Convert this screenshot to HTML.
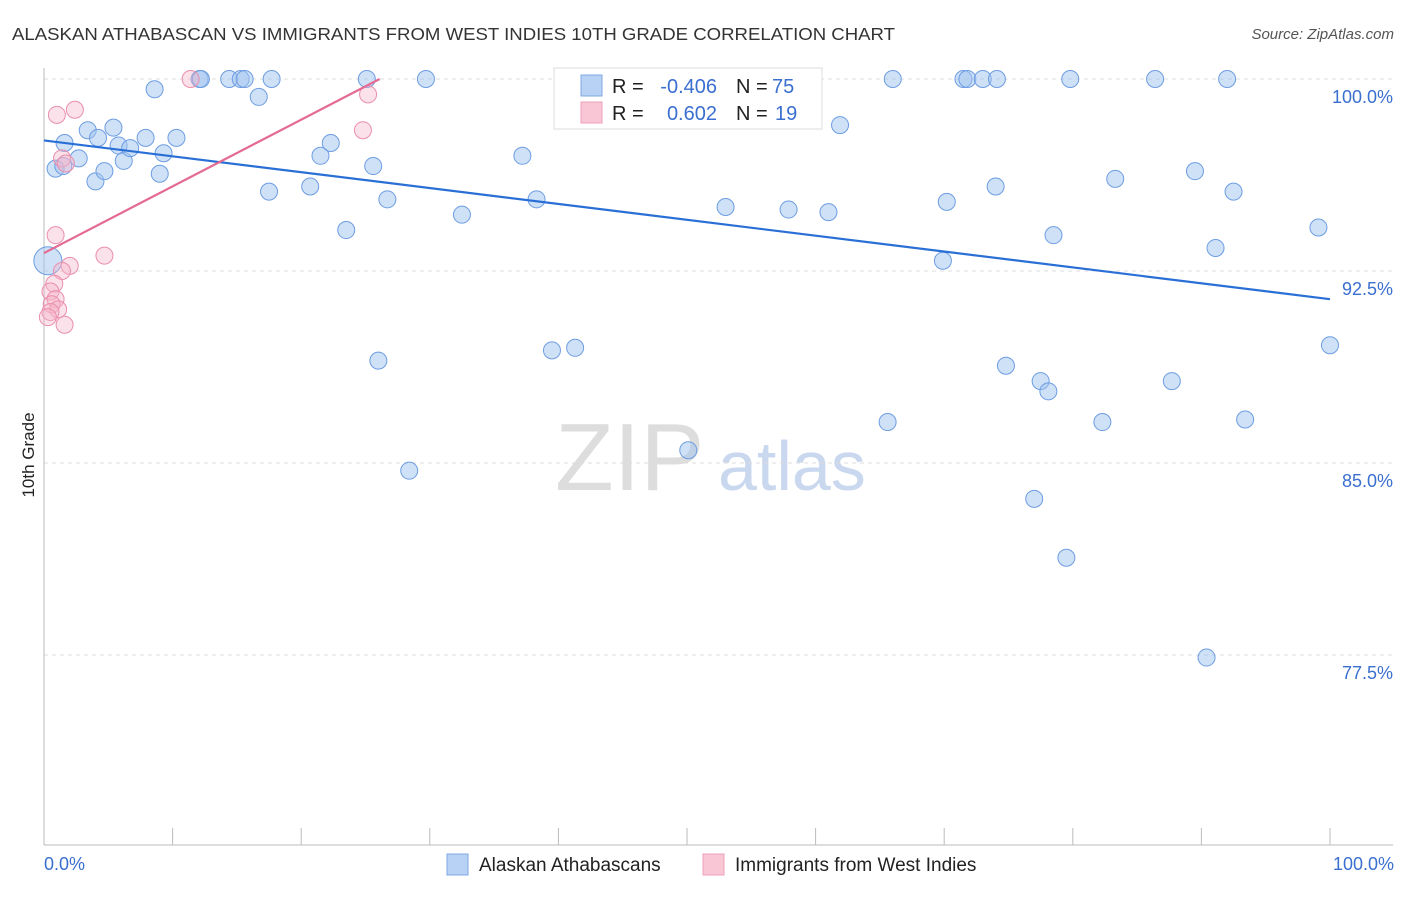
<!DOCTYPE html>
<html><head><meta charset="utf-8"><style>
body{margin:0;background:#fff;font-family:"Liberation Sans",sans-serif}
svg text{font-family:"Liberation Sans",sans-serif}
</style></head><body>
<svg id="chart" width="1406" height="892">
<text x="12" y="40" font-size="17.5" fill="#333" textLength="883" lengthAdjust="spacingAndGlyphs">ALASKAN ATHABASCAN VS IMMIGRANTS FROM WEST INDIES 10TH GRADE CORRELATION CHART</text>
<text x="1394" y="39" font-size="15" fill="#555" font-style="italic" text-anchor="end">Source: ZipAtlas.com</text>
<text x="34" y="455" font-size="17" fill="#222" text-anchor="middle" transform="rotate(-90 34 455)">10th Grade</text>
<text x="555" y="490" font-size="96" fill="#ddd" font-family="Liberation Serif">ZIP</text>
<text x="718" y="490" font-size="70" fill="#c9d8ef">atlas</text>
<g id="grid"></g><g id="axes"></g><g id="marks"></g>
<g>
<rect x="554" y="68" width="268" height="61" fill="#fff" stroke="#ddd"/>
<rect x="581" y="75" width="21" height="21" fill="#b8d2f5" stroke="#7fa8e4"/>
<rect x="581" y="102" width="21" height="21" fill="#f9c6d6" stroke="#eca0b8"/>
<text x="612" y="93" font-size="20" fill="#222">R =</text>
<text x="717" y="93" font-size="20" fill="#3a6fd0" text-anchor="end">-0.406</text>
<text x="736" y="93" font-size="20" fill="#222">N =</text>
<text x="772" y="93" font-size="20" fill="#3a6fd0">75</text>
<text x="612" y="120" font-size="20" fill="#222">R =</text>
<text x="717" y="120" font-size="20" fill="#3a6fd0" text-anchor="end">0.602</text>
<text x="736" y="120" font-size="20" fill="#222">N =</text>
<text x="775" y="120" font-size="20" fill="#3a6fd0">19</text>
</g>
<rect x="447" y="854" width="21" height="21" fill="#b8d2f5" stroke="#7fa8e4"/>
<text x="479" y="871" font-size="19" fill="#222">Alaskan Athabascans</text>
<rect x="703" y="854" width="21" height="21" fill="#f9c6d6" stroke="#eca0b8"/>
<text x="735" y="871" font-size="19" fill="#222">Immigrants from West Indies</text>
<text x="44" y="870" font-size="18" fill="#3a6fd0">0.0%</text>
<text x="1394" y="870" font-size="18" fill="#3a6fd0" text-anchor="end">100.0%</text>
</svg>
<script>
const yTicks=[100,92.5,85,77.5];
const yTickLabels=["100.0%","92.5%","85.0%","77.5%"];
const blueX=[0.9,1.6,1.5,2.7,3.4,4.0,4.2,4.7,5.4,5.8,6.2,6.7,7.9,8.6,9.0,9.3,10.3,12.1,12.2,14.4,15.3,15.6,16.7,17.5,17.7,20.7,21.5,22.3,23.5,25.1,25.6,26.0,26.7,28.4,29.7,32.5,37.2,38.3,39.5,41.3,50.1,53.0,57.9,61.0,61.9,65.6,66.0,69.9,70.2,71.5,71.8,73.0,74.0,74.1,74.8,77.0,77.5,78.1,78.5,79.5,79.8,82.3,83.3,86.4,87.7,89.5,90.4,91.1,92.0,92.5,93.4,99.1,100,0.3];
const blueY=[96.5,97.5,96.6,96.9,98.0,96.0,97.7,96.4,98.1,97.4,96.8,97.3,97.7,99.6,96.3,97.1,97.7,100,100,100,100,100,99.3,95.6,100,95.8,97.0,97.5,94.1,100,96.6,89.0,95.3,84.7,100,94.7,97.0,95.3,89.4,89.5,85.5,95.0,94.9,94.8,98.2,86.6,100,92.9,95.2,100,100,100,95.8,100,88.8,83.6,88.2,87.8,93.9,81.3,100,86.6,96.1,100,88.2,96.4,77.4,93.4,100,95.6,86.7,94.2,89.6,92.9];
const pinkX=[1.0,2.4,11.4,25.2,24.8,1.4,1.7,0.9,4.7,2.0,1.4,0.8,0.5,0.9,0.6,1.1,0.5,0.3,1.6];
const pinkY=[98.6,98.8,100,99.4,98.0,96.9,96.7,93.9,93.1,92.7,92.5,92.0,91.7,91.4,91.2,91.0,90.9,90.7,90.4];
const blueTrendX=[0,100], blueTrendY=[97.6,91.4];
const pinkTrendX=[0,26.1], pinkTrendY=[93.2,100];
const NS="http://www.w3.org/2000/svg";
const sx=v=>44+v*12.86, sy=v=>79+(100-v)*25.6;
function mk(tag,attrs,parent){const e=document.createElementNS(NS,tag);for(const k in attrs)e.setAttribute(k,attrs[k]);document.getElementById(parent).appendChild(e);return e;}
yTicks.forEach((t,i)=>{
 const l=mk('line',{x1:44,x2:1393,y1:sy(t),y2:sy(t),stroke:'#ddd','stroke-dasharray':'4 4'},'grid');
 
 
 const tx=mk('text',{x:1393,y:sy(t)+24,'font-size':18,fill:'#3a6fd0','text-anchor':'end'},'grid');
 tx.textContent=yTickLabels[i];
 
 
});
let a=mk('line',{x1:44,x2:44,y1:68,y2:845,stroke:'#bbb'},'axes');


a=mk('line',{x1:44,x2:1393,y1:845,y2:845,stroke:'#bbb'},'axes');


for(let i=0;i<=10;i++){const t=mk('line',{x1:sx(i*10),x2:sx(i*10),y1:828,y2:845,stroke:'#bbb'},'axes');
 
 }
blueX.forEach((x,i)=>{const big=i===blueX.length-1;
 const c=mk('circle',{cx:sx(x),cy:sy(blueY[i]),r:big?14:8.5,fill:'rgba(160,195,240,0.5)',stroke:'#6d9de2','stroke-width':1},'marks');
 
 });
pinkX.forEach((x,i)=>{
 const c=mk('circle',{cx:sx(x),cy:sy(pinkY[i]),r:8.5,fill:'rgba(246,180,200,0.4)',stroke:'#ea8fad','stroke-width':1},'marks');
 
 });
let tl=mk('line',{x1:sx(blueTrendX[0]),y1:sy(blueTrendY[0]),x2:sx(blueTrendX[1]),y2:sy(blueTrendY[1]),stroke:'#2a6fd6','stroke-width':2.2},'marks');


tl=mk('line',{x1:sx(pinkTrendX[0]),y1:sy(pinkTrendY[0]),x2:sx(pinkTrendX[1]),y2:sy(pinkTrendY[1]),stroke:'#e46a93','stroke-width':2.2},'marks');


</script>
</body></html>
